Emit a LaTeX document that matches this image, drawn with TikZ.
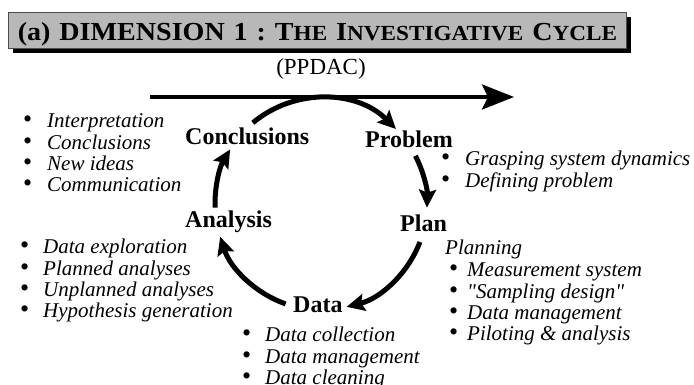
\documentclass[tikz,border=0pt]{standalone}
\usepackage{fontspec}
\setmainfont{Liberation Serif}
\newfontfamily\qfont{Liberation Serif}[Ligatures=TeXOff]
\usetikzlibrary{arrows.meta,calc}
\newcommand\tsmall[1]{{\fontsize{21.5}{22}\selectfont #1}}
\newcommand\bul[1]{\makebox[#1][l]{\upshape\fontsize{26}{21}\selectfont •}}
\newcommand\sq{{\qfont\itshape\symbol{34}}}
\tikzset{
  lab/.style={font=\fontsize{24}{28}\selectfont\bfseries, anchor=base west, inner sep=0pt},
  lst/.style={font=\fontsize{21}{21.3}\selectfont\itshape, anchor=base west, inner sep=0pt},
  cyc/.style={line width=5pt, -{Stealth[length=18pt,width=17pt,inset=3pt]}},
  bigarrow/.style={line width=4pt, -{Stealth[length=32pt,width=25pt,inset=6pt]}},
}
\begin{document}
\begin{tikzpicture}[x=1pt,y=1pt]
\useasboundingbox (0,0) rectangle (694,385);
% title box
\fill[black] (13,332) rectangle (631,368);
\node[fill=black!28, draw=black!70, line width=0.8pt, minimum width=618pt, minimum height=36pt, inner sep=0pt] (titlebox) at (317,355) {};
\node[anchor=base, inner sep=0pt, font=\fontsize{26}{28}\selectfont\bfseries] (title) at (317.5,344)
  {\scalebox{1.08}[1]{\makebox[555pt][s]{(a)\ DIMENSION\ 1\ :\ T\tsmall{HE}\ I\tsmall{NVESTIGATIVE}\ C\tsmall{YCLE}}}};
\node[anchor=base, inner sep=0pt, font=\fontsize{23}{26}\selectfont] (ppdac) at (321,310) {(PPDAC)};
% long arrow
\coordinate (hs) at (150,288);
\coordinate (he) at (514,288);
\draw[bigarrow] (hs) -- (he);
% labels
\node[lab] (concl) at (185,240) {Conclusions};
\node[lab] (problem) at (365,237) {Problem};
\node[lab] (plan) at (400,153) {Plan};
\node[lab] (analysis) at (185,157) {Analysis};
\node[lab] (data) at (293,72) {Data};
% cycle
\coordinate (cc) at (321,181);
\draw[cyc] ($(cc)+(130:106)$) arc[start angle=130, end angle=45, radius=106];
\draw[cyc] ($(cc)+(27:106)$) arc[start angle=27, end angle=-2, radius=106];
\draw[cyc] ($(cc)+(-21:106)$) arc[start angle=-21, end angle=-76, radius=106];
\draw[cyc] ($(cc)+(-109.5:106)$) arc[start angle=-109.5, end angle=-162, radius=106];
\draw[cyc] ($(cc)+(182:106)$) arc[start angle=182, end angle=149, radius=106];
% lists
\node[lst] (l1) at (23,257) {\begin{tabular}[t]{@{}l@{}}
\bul{24pt}Interpretation\\ \bul{24pt}Conclusions\\ \bul{24pt}New ideas\\ \bul{24pt}Communication\end{tabular}};
\node[lst] (l2) at (20,131) {\begin{tabular}[t]{@{}l@{}}
\bul{23pt}Data exploration\\ \bul{23pt}Planned analyses\\
\bul{23pt}Unplanned analyses\\ \bul{23pt}Hypothesis generation\end{tabular}};
\node[lst] (l3) at (441,219) {\begin{tabular}[t]{@{}l@{}}
\bul{24pt}Grasping system dynamics\\ \bul{24pt}Defining problem\end{tabular}};
\node[lst] (l4) at (445,130) {Planning};
\node[lst] (l5) at (449,108) {\begin{tabular}[t]{@{}l@{}}
\bul{18pt}Measurement system\\ \bul{18pt}\sq Sampling design\sq\\
\bul{18pt}Data management\\ \bul{18pt}Piloting \& analysis\end{tabular}};
\node[lst] (l6) at (242,43) {\begin{tabular}[t]{@{}l@{}}
\bul{23pt}Data collection\\ \bul{23pt}Data management\\
\bul{23pt}Data cleaning\end{tabular}};
\end{tikzpicture}
\end{document}
